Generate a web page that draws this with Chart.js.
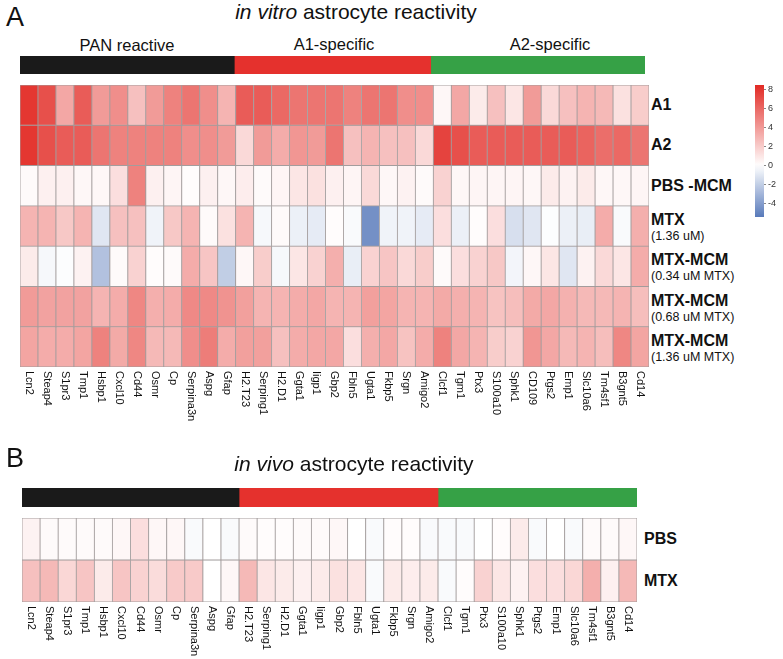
<!DOCTYPE html>
<html>
<head>
<meta charset="utf-8">
<script src="https://cdn.jsdelivr.net/npm/chart.js@4.4.0/dist/chart.umd.min.js"></script>
<style>
  body { margin: 0; background: #fff; width: 783px; height: 659px; position: relative; overflow: hidden;
         font-family: Arial, "Liberation Sans", sans-serif; color: #111; }
  .abs { position: absolute; white-space: nowrap; }
  .panel { font-size: 27px; }
  .title { font-size: 21px; text-align: center; }
  .grp { font-size: 16.5px; text-align: center; }
  .rowlab { position: absolute; display: flex; flex-direction: column; justify-content: center; line-height: 16px; }
  .rowlab b { font-size: 16px; }
  .rowlab span { font-size: 12.5px; }
  canvas { position: absolute; }
</style>
</head>
<body>
<div class="abs panel" style="left:6px;top:2px;">A</div>
<div class="abs title" style="left:0;width:712px;top:0;"><i>in vitro</i> astrocyte reactivity</div>
<div class="abs grp" style="left:27px;width:200px;top:36px;">PAN reactive</div>
<div class="abs grp" style="left:234px;width:200px;top:35px;">A1-specific</div>
<div class="abs grp" style="left:450px;width:200px;top:35px;">A2-specific</div>
<canvas id="vitroGroups" width="625" height="18" style="left:20px;top:56px;"></canvas>
<canvas id="vitroHeat" width="631" height="378" style="left:19px;top:84px;"></canvas>
<canvas id="colorBar" width="29" height="132" style="left:755px;top:85px;"></canvas>
<div id="vitroRowLabels"></div>

<div class="abs panel" style="left:6px;top:443px;">B</div>
<div class="abs title" style="left:0;width:708px;top:452px;"><i>in vivo</i> astrocyte reactivity</div>
<canvas id="vivoGroups" width="615" height="19" style="left:22px;top:488px;"></canvas>
<canvas id="vivoHeat" width="617" height="142" style="left:21px;top:517px;"></canvas>
<div id="vivoRowLabels"></div>

<script>
// gene names (columns)
const vitroGenes = ['Lcn2','Steap4','S1pr3','Tmp1','Hsbp1','Cxcl10','Cd44','Osmr','Cp','Serpina3n','Aspg','Gfap',
  'H2.T23','Serping1','H2.D1','Ggta1','Iigp1','Gbp2','Fbln5','Ugta1','Fkbp5','Srgn','Amigo2',
  'Clcf1','Tgm1','Ptx3','S100a10','Sphk1','CD109','Ptgs2','Emp1','Slc10a6','Tm4sf1','B3gnt5','Cd14'];
const vivoGenes = ['Lcn2','Steap4','S1pr3','Tmp1','Hsbp1','Cxcl10','Cd44','Osmr','Cp','Serpina3n','Aspg','Gfap',
  'H2.T23','Serping1','H2.D1','Ggta1','Iigp1','Gbp2','Fbln5','Ugta1','Fkbp5','Srgn','Amigo2',
  'Clcf1','Tgm1','Ptx3','S100a10','Sphk1','Ptgs2','Emp1','Slc10a6','Tm4sf1','B3gnt5','Cd14'];

// groups
const groupNames = ['PAN reactive', 'A1-specific', 'A2-specific'];
const vitroGroupSizes = [12, 11, 12];
const vivoGroupSizes = [12, 11, 11];

// row labels
const vitroRowNames = ['A1', 'A2', 'PBS -MCM', 'MTX', 'MTX-MCM', 'MTX-MCM', 'MTX-MCM'];
const vitroRowNotes = ['', '', '', '(1.36 uM)', '(0.34 uM MTX)', '(0.68 uM MTX)', '(1.36 uM MTX)'];
const vivoRowNames = ['PBS', 'MTX'];

// in vitro values (log fold change)
const a1 = [8, 7, 3.5, 6.5, 4, 4.5, 2.5, 4, 5, 5.5, 4.5, 3,
  6.5, 6.5, 6, 5.5, 5.5, 5.5, 5, 5.5, 5.5, 4.5, 4.5,
  0.3, 3.5, 0.8, 2.5, 1, 4, 1.5, 2.5, 3, 2.8, 1.2, 2];
const a2 = [8, 7, 6.5, 6.5, 5.5, 5, 5, 5, 5, 4.5, 4.5, 4,
  1.5, 4, 3.3, 4.2, 4, 5.5, 2.5, 3, 2.5, 2.5, 1.5,
  7.5, 7, 6.5, 6.5, 6.5, 6.5, 6.5, 6.5, 6.2, 5.8, 6, 5.5];
const pbsMcm = [0.2, 0.6, 0.6, 0.3, 0.3, 1.3, 5, 0.6, 0.4, 0.1, 0.6, 0.3,
  0.7, 0.2, 0.4, 1.0, 1.2, 0.6, 0.4, 1.5, 0.3, 0.5, 0.2,
  1.8, 0.3, 0.4, 0.4, 0.4, 0.3, 0.8, 0.5, 0.8, 0.3, 0.3, 0.4];
const mtx = [3, 3, 2.2, 3, -1, 2.5, 2.5, -0.5, 2.2, 3, 0.2, 1.2,
  3, -0.3, 0.2, -0.6, -0.8, 0.1, -0.2, -4.5, -0.5, -0.5, -0.8,
  1.3, -0.6, 0.1, 1.3, -1.3, -1, -0.1, -0.6, -0.7, 3.3, -0.2, 3.2];
const mtxMcm034 = [0.8, -0.3, -0.1, 0.5, -2.5, 0.2, 1.8, 0.1, 0.2, 3.3, 2.3, -2,
  0.3, 2, -0.3, 1, 1.8, 3.2, -0.7, 1.8, 2.3, 1.5, 2,
  0.2, 1.3, 1.8, 2.2, -0.4, 0.3, 1, -1, 0.5, 1.5, 1, 3.3];
const mtxMcm068 = [4, 3.7, 3.7, 3.7, 3, 3.3, 4.8, 3.2, 3.3, 4.7, 4.7, 4.3,
  3.8, 3, 3, 3.3, 3.5, 3, 3, 3.8, 3.6, 3, 3,
  3.4, 3.2, 3, 2.4, 2.6, 3.4, 3.5, 3.1, 2.8, 2.8, 3, 2.6];
const mtxMcm136 = [3.6, 3.3, 3.3, 3.6, 5, 3.4, 4.8, 2.8, 2.8, 4.5, 5.2, 3.3,
  3.8, 3.8, 2.5, 3.3, 3.5, 3.5, 1.3, 3.2, 3.5, 2.4, 3.3,
  5, 3.5, 3, 2, 1.8, 4.2, 3.5, 2.8, 3, 2.6, 4.8, 3.6];

// in vivo values
const vivoPbs = [0.5, 0.2, 0.2, 0.2, 0.2, 0.3, 1.3, 0.3, 0.3, -0.2, 0, -0.2,
  0.2, 0.1, 0.1, 0.2, 0.2, 0.3, 0, -0.2, 0.1, 0.1, -0.2,
  -0.2, -0.2, 0, 0.1, 0.8, -0.2, 0, -0.2, 0.2, 0.2, 0.3];
const vivoMtx = [2.5, 2.8, 1.6, 2.3, 0.8, 2.3, 1.8, 1.4, 2.1, 2.1, 0, 0.3,
  2.8, 1, 0.8, 0.6, 0.8, 1.2, 1, -0.2, 0.8, 0.7, 0.8,
  -0.2, 0.1, 1.8, 1, 0.5, 1.3, 1.3, 1.6, 3.2, 0.6, 2.8];

// colour scale
const colorMin = -5.4;
const colorMax = 8.5;
const colorTicks = [8, 6, 4, 2, 0, -2, -4];

const vitroRows = [a1, a2, pbsMcm, mtx, mtxMcm034, mtxMcm068, mtxMcm136];
const vivoRows = [vivoPbs, vivoMtx];

function heatColor(v) {
  let lo, t;
  if (v >= 0) { lo = [226, 42, 36]; t = Math.min(v / colorMax, 1); }
  else { lo = [88, 122, 186]; t = Math.min(v / colorMin, 1); }
  const c = lo.map(x => Math.round(255 + (x - 255) * t));
  return 'rgb(' + c.join(',') + ')';
}

// draws gene names rotated clockwise under the grid
const geneLabels = {
  id: 'geneLabels',
  afterDraw(chart) {
    const ctx = chart.ctx;
    const x = chart.scales.x;
    ctx.save();
    ctx.font = '11px Arial, "Liberation Sans", sans-serif';
    ctx.fillStyle = '#111';
    ctx.textAlign = 'left';
    ctx.textBaseline = 'middle';
    chart.data.labels.forEach((g, i) => {
      ctx.save();
      ctx.translate(x.getPixelForValue(i), chart.chartArea.bottom + 4);
      ctx.rotate(Math.PI / 2);
      ctx.fillText(g, 0, 0);
      ctx.restore();
    });
    ctx.restore();
  }
};

function heatmap(id, genes, rows, labelSpace) {
  return new Chart(document.getElementById(id), {
    type: 'bar',
    data: {
      labels: genes,
      datasets: rows.map(r => ({
        data: r.map(() => 1),
        backgroundColor: r.map(heatColor),
        borderColor: '#a39d9d',
        borderWidth: 0.8,
        borderSkipped: false,
        barPercentage: 1,
        categoryPercentage: 1
      }))
    },
    options: {
      animation: false,
      responsive: false,
      layout: { padding: { left: 1, right: 1, top: 1, bottom: 0 } },
      plugins: { legend: { display: false }, tooltip: { enabled: false } },
      scales: {
        x: {
          stacked: true,
          grid: { display: false },
          border: { display: false },
          ticks: { display: false },
          afterFit: s => { s.height = labelSpace; }
        },
        y: { stacked: true, reverse: true, min: 0, max: rows.length, display: false }
      }
    },
    plugins: [geneLabels]
  });
}

function groupBar(id, sizes) {
  const colors = ['#1a1a1a', '#e5312d', '#36a146'];
  return new Chart(document.getElementById(id), {
    type: 'bar',
    data: {
      labels: [''],
      datasets: sizes.map((n, i) => ({
        label: groupNames[i],
        data: [n],
        backgroundColor: colors[i],
        borderWidth: 0,
        barPercentage: 1,
        categoryPercentage: 1
      }))
    },
    options: {
      indexAxis: 'y',
      animation: false,
      responsive: false,
      layout: { padding: 0 },
      plugins: { legend: { display: false }, tooltip: { enabled: false } },
      scales: {
        x: { stacked: true, display: false, min: 0, max: sizes.reduce((a, b) => a + b, 0) },
        y: { stacked: true, display: false }
      }
    }
  });
}

function rowLabels(divId, names, notes, left, top, rowH) {
  const box = document.getElementById(divId);
  names.forEach((n, i) => {
    const d = document.createElement('div');
    d.className = 'rowlab';
    d.style.left = left + 'px';
    d.style.top = (top + i * rowH + (notes[i] ? 2 : 0)) + 'px';
    d.style.height = rowH + 'px';
    d.innerHTML = '<b>' + n + '</b>' + (notes[i] ? '<span>' + notes[i] + '</span>' : '');
    box.appendChild(d);
  });
}

groupBar('vitroGroups', vitroGroupSizes);
groupBar('vivoGroups', vivoGroupSizes);
heatmap('vitroHeat', vitroGenes, vitroRows, 95);
heatmap('vivoHeat', vivoGenes, vivoRows, 57);

// colour key
new Chart(document.getElementById('colorBar'), {
  type: 'bar',
  data: {
    labels: [''],
    datasets: [{
      data: [[colorMin, colorMax]],
      borderWidth: 0,
      barPercentage: 1,
      categoryPercentage: 1,
      backgroundColor: c => {
        const chart = c.chart;
        const y = chart.scales.y;
        if (!chart.chartArea || !y) return '#fff';
        const g = chart.ctx.createLinearGradient(0, y.getPixelForValue(colorMin), 0, y.getPixelForValue(colorMax));
        for (let k = 0; k <= 20; k++) {
          const v = colorMin + (colorMax - colorMin) * k / 20;
          g.addColorStop(k / 20, heatColor(v));
        }
        return g;
      }
    }]
  },
  options: {
    animation: false,
    responsive: false,
    layout: { padding: 0 },
    plugins: { legend: { display: false }, tooltip: { enabled: false } },
    scales: {
      x: { display: false },
      y: {
        position: 'right',
        min: colorMin,
        max: colorMax,
        grid: { drawOnChartArea: false, tickLength: 2, color: '#888' },
        border: { display: false },
        ticks: { font: { size: 9 }, color: '#333', padding: 2 },
        afterBuildTicks: s => { s.ticks = colorTicks.map(v => ({ value: v })); },
        afterFit: s => { s.width = 20; s.paddingTop = 0; s.paddingBottom = 0; }
      }
    }
  }
});

const vitroRowH = 282 / vitroRows.length;
rowLabels('vitroRowLabels', vitroRowNames, vitroRowNotes, 651, 85, vitroRowH);
rowLabels('vivoRowLabels', vivoRowNames, ['', ''], 644, 518, 42);
</script>
</body>
</html>
